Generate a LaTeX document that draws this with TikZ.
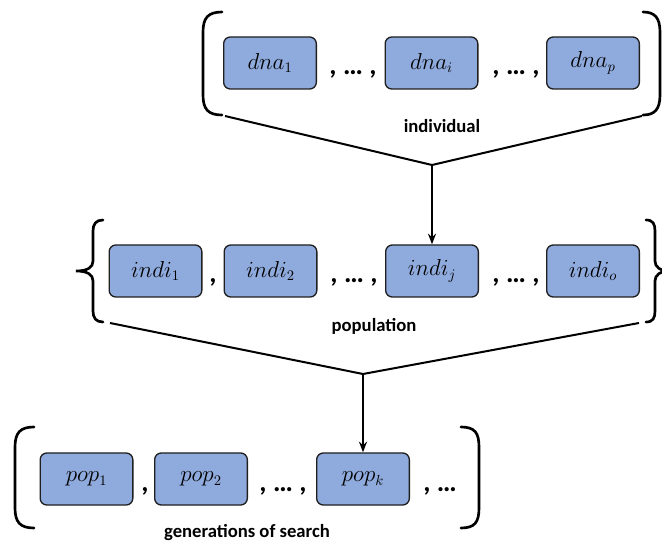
\documentclass[tikz,border=0pt]{standalone}
\usepackage{fontspec}
\setmainfont{Carlito}
\usetikzlibrary{arrows.meta}
\definecolor{boxblue}{HTML}{8FAADC}
\definecolor{boxline}{HTML}{1F1F1F}
\begin{document}
\begin{tikzpicture}[x=0.75pt,y=-0.75pt,
  elem/.style={draw=boxline,fill=boxblue,line width=1pt,rounded corners=5pt,
    minimum width=69.5pt,minimum height=39pt,inner sep=0pt,
    font=\fontsize{16}{18}\selectfont},
  sep/.style={anchor=base,inner sep=0pt,font=\fontsize{21}{23}\selectfont\bfseries},
  caption/.style={inner sep=0pt,font=\fontsize{14}{16}\selectfont\bfseries},
  bracket/.style={line width=2pt,line cap=round},
  link/.style={line width=1.5pt},
  feed/.style={line width=1.5pt,-{Stealth[length=8pt,width=6pt]}}]
\useasboundingbox (0,0) rectangle (662,542);

% ---- individual: a sequence of dna elements ----
\node[elem] (dna1) at (270,63) {$dna_1$};
\node[elem] (dnai) at (431.5,63) {$dna_i$};
\node[elem] (dnap) at (593,63) {$dna_p$};
\node[sep] (s1) at (353,75) {, … ,};
\node[sep] (s2) at (516,75) {, … ,};
\node[caption] (lindiv) at (442,126) {individual};
\draw[bracket] (222,12) .. controls (208,12) and (203,18) .. (203,32)
  -- (203,95) .. controls (203,109) and (208,115) .. (222,115);
\draw[bracket] (643,12) .. controls (655,12) and (660,18) .. (660,32)
  -- (660,95) .. controls (660,109) and (655,115) .. (643,115);
\coordinate (ta) at (225,116);
\coordinate (tb) at (642,116);
\coordinate (tj) at (432,165);
\draw[link] (ta) -- (tj) -- (tb);

% ---- population: a set of individuals ----
\node[elem] (indi1) at (155.5,271) {$indi_1$};
\node[elem] (indi2) at (270.5,271) {$indi_2$};
\node[elem] (indij) at (432,271) {$indi_j$};
\node[elem] (indio) at (593,271) {$indi_o$};
\node[sep] (s3) at (213,283) {,};
\node[sep] (s4) at (354,283) {, … ,};
\node[sep] (s5) at (516,283) {, … ,};
\node[caption] (lpop) at (374,326) {population};
\draw[feed] (tj) -- (indij.north);
\draw[bracket] (103,220) .. controls (96,220) and (93,224) .. (93,231)
  -- (93,261) .. controls (93,267) and (88,271) .. (76,271)
  .. controls (88,271) and (93,275) .. (93,281)
  -- (93,311) .. controls (93,318) and (96,322) .. (103,322);
\draw[bracket] (646,220) .. controls (653,220) and (655,224) .. (655,231)
  -- (655,261) .. controls (655,267) and (660,271) .. (670,271)
  .. controls (660,271) and (655,275) .. (655,281)
  -- (655,311) .. controls (655,318) and (653,322) .. (646,322);
\coordinate (ma) at (110,323);
\coordinate (mb) at (639,323);
\coordinate (mj) at (363,374);
\draw[link] (ma) -- (mj) -- (mb);

% ---- generations of search: a sequence of populations ----
\node[elem] (pop1) at (86.5,479) {$pop_1$};
\node[elem] (pop2) at (201,479) {$pop_2$};
\node[elem] (popk) at (363,479) {$pop_k$};
\node[sep] (s6) at (145,491) {,};
\node[sep] (s7) at (283,491) {, … ,};
\node[sep] (s8) at (440,491) {, …};
\node[caption] (lgen) at (247,533) {generations of search};
\draw[feed] (mj) -- (popk.north);
\draw[bracket] (34,427) .. controls (20,427) and (15,433) .. (15,447)
  -- (15,508) .. controls (15,522) and (20,528) .. (34,528);
\draw[bracket] (461,427) .. controls (475,427) and (479,433) .. (479,447)
  -- (479,508) .. controls (479,522) and (475,528) .. (461,528);
\end{tikzpicture}
\end{document}
